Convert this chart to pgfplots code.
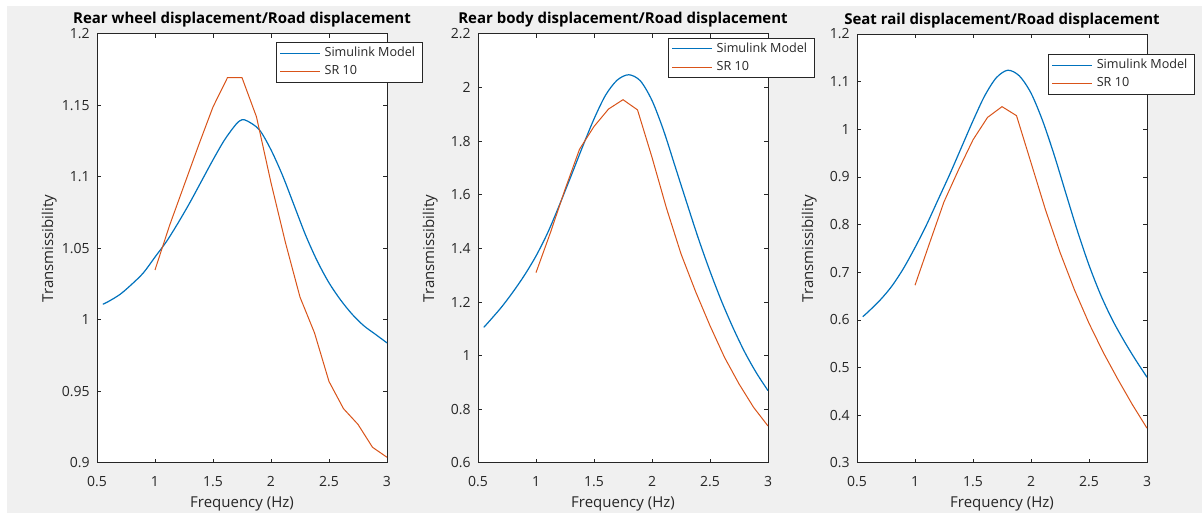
\documentclass[border=0pt]{standalone}
\usepackage{fontspec}
\setmainfont{Open Sans}
\usepackage{pgfplots}
\pgfplotsset{compat=1.18}
\definecolor{mblue}{HTML}{0072BD}
\definecolor{morange}{HTML}{D95319}
\definecolor{figbg}{HTML}{F0F0F0}
\definecolor{axgrey}{HTML}{262626}

\pgfplotsset{
  matfig/.style={
    scale only axis, width=145pt, height=214.5pt,
    xmin=0.5, xmax=3, xtick={0.5,1,1.5,2,2.5,3},
    axis background/.style={fill=white},
    axis line style={axgrey, line width=0.5pt},
    tick style={axgrey, line width=0.5pt},
    major tick length=2pt, tick align=inside,
    /pgf/number format/assume math mode=true,
    tick label style={font=\fontsize{7}{8}\selectfont, text=axgrey},
    xticklabel style={anchor=base, yshift=-12pt},
    yticklabel style={anchor=east, inner sep=0pt, xshift=-3.5pt},
    xlabel={Frequency (Hz)}, ylabel={Transmissibility},
    label style={font=\fontsize{7.5}{9}\selectfont, text=axgrey},
    xlabel style={at={(axis description cs:0.5,0)}, anchor=base, yshift=-22pt},
    ylabel style={at={(axis description cs:-0.1517,0.5)}, anchor=base},
    every axis title/.style={at={(axis description cs:0.5,1)}, anchor=base, yshift=5pt,
      font=\bfseries\fontsize{7.5}{9}\selectfont, text=black},
    legend style={anchor=north west, draw=axgrey, line width=0.5pt, fill=white,
      font=\fontsize{6.3}{7.5}\selectfont, inner xsep=1.5pt, inner ysep=0.5pt,
      nodes={inner ysep=1.6pt}, row sep=0pt, cells={anchor=west}, text=axgrey},
    legend image code/.code={\draw[#1] (0pt,0pt) -- (20pt,0pt);},
    sim/.style={mblue, line width=0.6pt, smooth},
    sr/.style={morange, line width=0.5pt},
  },
}

\begin{document}
\begin{tikzpicture}
\fill[white] (0,0) rectangle (601pt,256.5pt);
\fill[figbg] (3.5pt,0) rectangle (601pt,253.5pt);
\useasboundingbox (0,0) rectangle (601pt,256.5pt);

% rear wheel
\begin{axis}[matfig, at={(48.5pt,25pt)}, anchor=south west,
  ymin=0.9, ymax=1.2, ytick={0.9,0.95,1,1.05,1.1,1.15,1.2},
  title={Rear wheel displacement/Road displacement},
  legend style={at={(0.617,0.981)}}]
\addplot[sim] coordinates {
 (0.55,1.011) (0.6,1.013) (0.7,1.018) (0.8,1.025) (0.9,1.033) (1.0,1.044)
 (1.1,1.055) (1.2,1.068) (1.3,1.082) (1.4,1.097) (1.5,1.112) (1.6,1.126)
 (1.7,1.137) (1.75,1.140) (1.8,1.139) (1.9,1.133) (2.0,1.119) (2.1,1.101)
 (2.2,1.080) (2.3,1.059) (2.4,1.041) (2.5,1.026) (2.6,1.014) (2.7,1.004)
 (2.8,0.996) (2.9,0.990) (3.0,0.984)};
\addplot[sr] coordinates {
 (1.0,1.035) (1.125,1.066) (1.25,1.094) (1.375,1.122) (1.5,1.149) (1.625,1.1695)
 (1.75,1.1695) (1.875,1.142) (2.0,1.096) (2.125,1.054) (2.25,1.016) (2.375,0.991)
 (2.5,0.957) (2.625,0.938) (2.75,0.927) (2.875,0.911) (3.0,0.904)};
\legend{Simulink Model, SR 10}
\end{axis}

% rear body
\begin{axis}[matfig, at={(239pt,25pt)}, anchor=south west,
  ymin=0.6, ymax=2.2, ytick={0.6,0.8,1,1.2,1.4,1.6,1.8,2,2.2},
  title={Rear body displacement/Road displacement},
  legend style={at={(0.655,0.991)}}]
\addplot[sim] coordinates {
 (0.55,1.106) (0.6,1.130) (0.7,1.180) (0.8,1.237) (0.9,1.300) (1.0,1.372)
 (1.1,1.458) (1.2,1.560) (1.3,1.668) (1.4,1.778) (1.5,1.883) (1.6,1.972)
 (1.7,2.028) (1.8,2.048) (1.9,2.025) (2.0,1.952) (2.1,1.840) (2.2,1.705)
 (2.3,1.570) (2.4,1.437) (2.5,1.315) (2.6,1.203) (2.7,1.103) (2.8,1.013)
 (2.9,0.936) (3.0,0.870)};
\addplot[sr] coordinates {
 (1.0,1.31) (1.125,1.46) (1.25,1.62) (1.375,1.77) (1.5,1.855) (1.625,1.92)
 (1.75,1.955) (1.875,1.917) (2.0,1.74) (2.125,1.55) (2.25,1.38) (2.375,1.24)
 (2.5,1.112) (2.625,0.994) (2.75,0.895) (2.875,0.808) (3.0,0.738)};
\legend{Simulink Model, SR 10}
\end{axis}

% seat rail
\begin{axis}[matfig, at={(428.5pt,25pt)}, anchor=south west,
  ymin=0.3, ymax=1.2, ytick={0.3,0.4,0.5,0.6,0.7,0.8,0.9,1,1.1,1.2},
  title={Seat rail displacement/Road displacement},
  legend style={at={(0.659,0.953)}}]
\addplot[sim] coordinates {
 (0.55,0.607) (0.6,0.618) (0.7,0.642) (0.8,0.671) (0.9,0.708) (1.0,0.752)
 (1.1,0.800) (1.2,0.853) (1.3,0.906) (1.4,0.962) (1.5,1.018) (1.6,1.070)
 (1.7,1.108) (1.8,1.124) (1.9,1.112) (2.0,1.076) (2.1,1.018) (2.2,0.946)
 (2.3,0.866) (2.4,0.787) (2.5,0.715) (2.6,0.653) (2.7,0.601) (2.8,0.557)
 (2.9,0.517) (3.0,0.480)};
\addplot[sr] coordinates {
 (1.0,0.673) (1.125,0.761) (1.25,0.848) (1.375,0.915) (1.5,0.978) (1.625,1.025)
 (1.75,1.0476) (1.875,1.0287) (2.0,0.93) (2.125,0.831) (2.25,0.742) (2.375,0.663)
 (2.5,0.593) (2.625,0.531) (2.75,0.475) (2.875,0.422) (3.0,0.373)};
\legend{Simulink Model, SR 10}
\end{axis}
\end{tikzpicture}
\end{document}
